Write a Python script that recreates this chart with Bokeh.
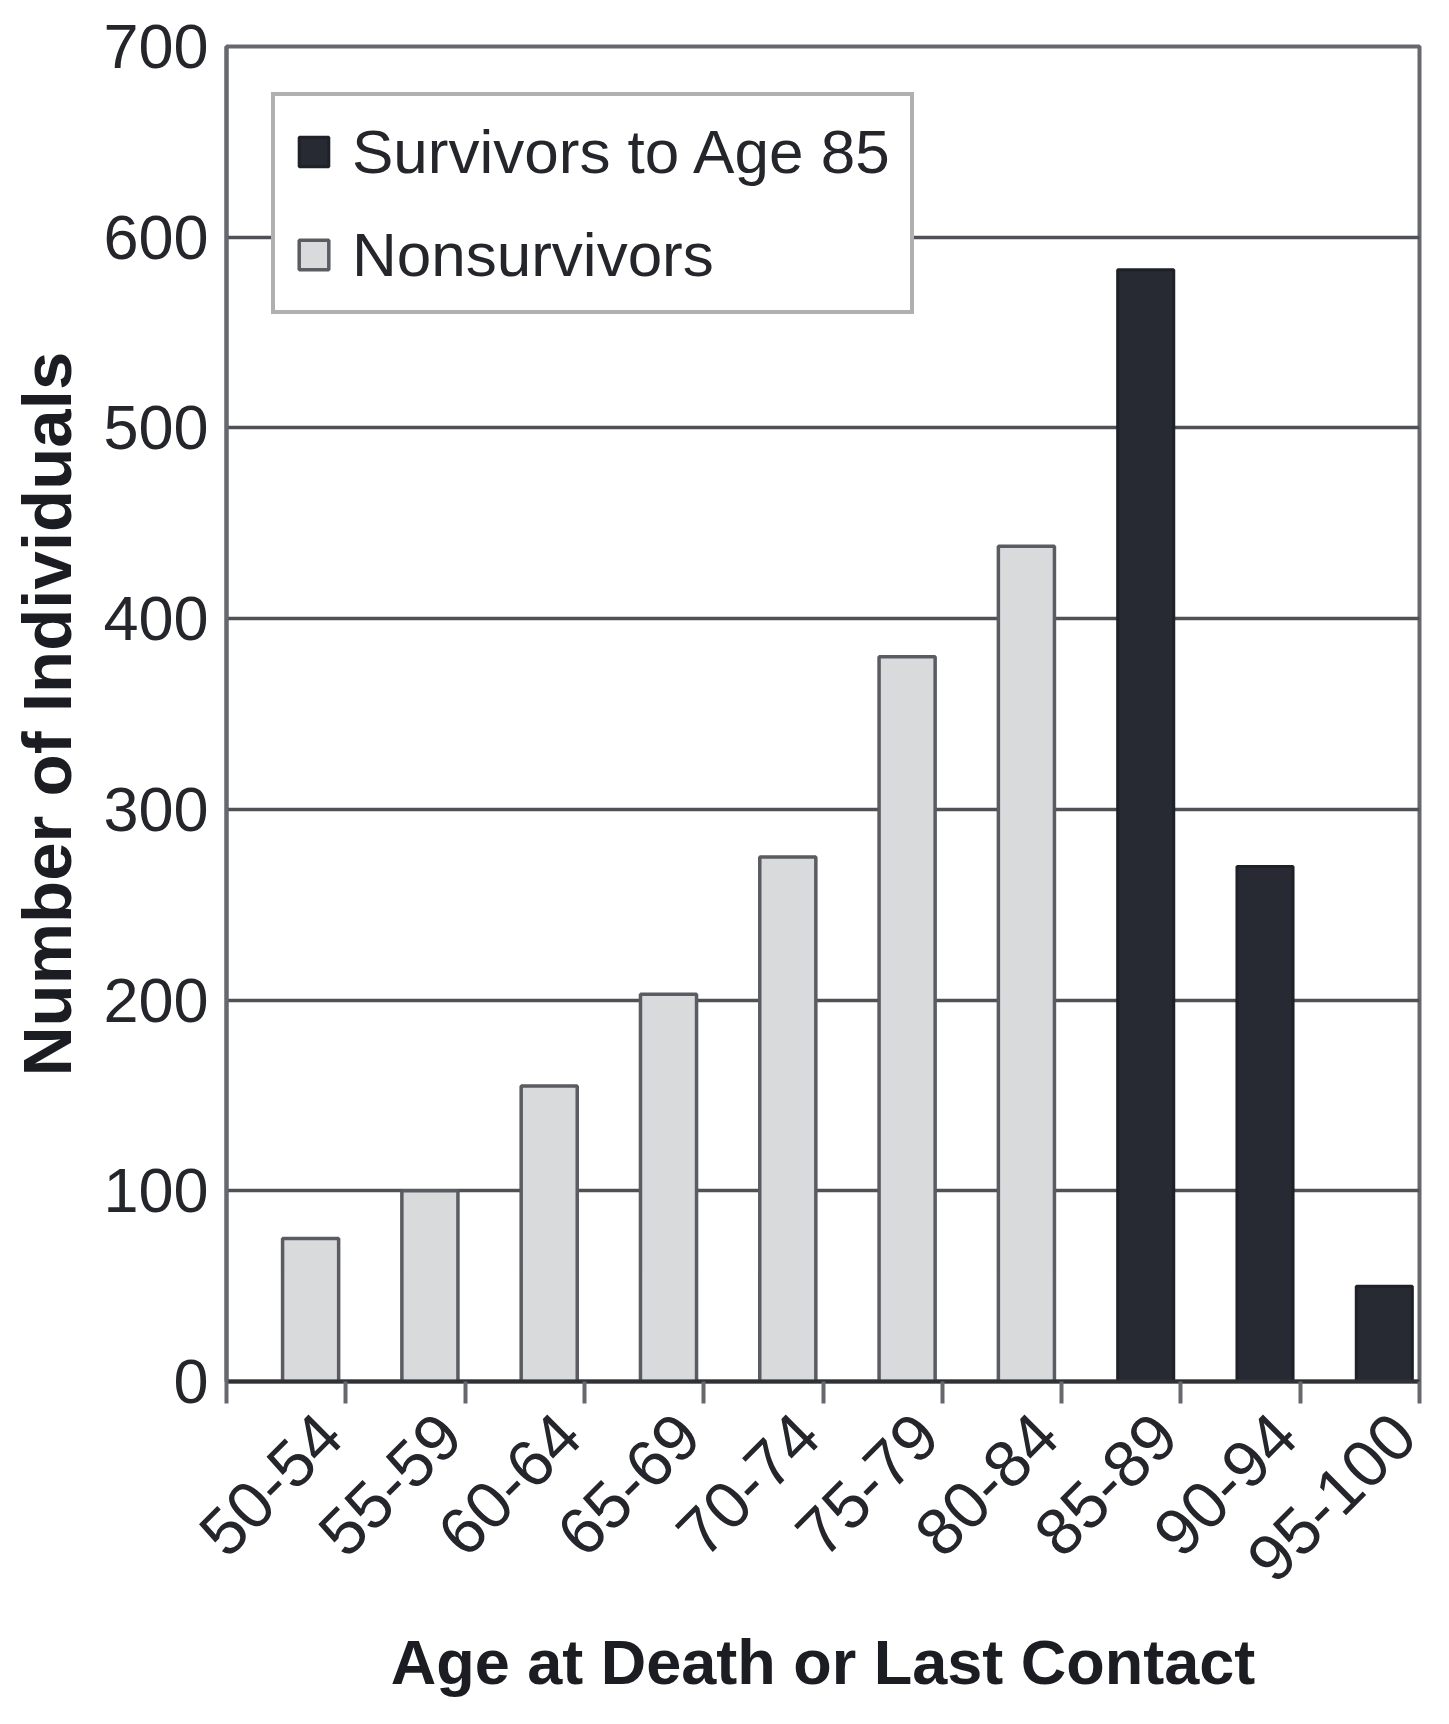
from bokeh.plotting import figure
from bokeh.models import (FactorRange, Range1d, LinearAxis, FixedTicker, Legend,
                          LegendItem, ColumnDataSource)
from bokeh.transform import dodge
from bokeh.embed import file_html
from bokeh.resources import INLINE

# ---- data ----
ages = ["50-54", "55-59", "60-64", "65-69", "70-74", "75-79",
        "80-84", "85-89", "90-94", "95-100"]
nonsurvivors = [75, 100, 155, 203, 275, 380, 438, 0, 0, 0]
survivors = [0, 0, 0, 0, 0, 0, 0, 583, 270, 50]
y_ticks = [0, 100, 200, 300, 400, 500, 600, 700]

FONT = "Liberation Sans"
TEXT = "#24262c"

src = ColumnDataSource(dict(age=ages, non=nonsurvivors, surv=survivors))

p = figure(x_range=FactorRange(*ages, range_padding=0),
           y_range=Range1d(0, 700),
           frame_width=1193, frame_height=1335,
           min_border_left=226, min_border_right=14,
           min_border_top=46, min_border_bottom=320,
           x_axis_type=None,
           output_backend="svg", toolbar_location=None)

p.outline_line_color = "#66686d"
p.outline_line_width = 4
p.background_fill_color = "white"
p.border_fill_color = "white"

# bars (offset to the right of each category, as in the original)
r_non = p.vbar(x=dodge("age", 0.205, range=p.x_range), top="non", width=0.47,
               source=src, fill_color="#d9dadc", line_color="#5a5c62",
               line_width=3.5)
r_surv = p.vbar(x=dodge("age", 0.205, range=p.x_range), top="surv", width=0.47,
                source=src, fill_color="#272a32", line_color="#1f2128",
                line_width=3)

# y axis
yax = p.yaxis[0]
yax.ticker = FixedTicker(ticks=y_ticks)
yax.axis_label = "Number of Individuals"
yax.axis_label_text_font = FONT
yax.axis_label_text_font_style = "bold"
yax.axis_label_text_font_size = "69px"
yax.axis_label_text_color = "#1c1d22"
yax.axis_label_standoff = 14
yax.major_label_text_font = FONT
yax.major_label_text_font_size = "63px"
yax.major_label_text_color = TEXT
yax.major_label_standoff = 18
yax.major_tick_out = 0
yax.major_tick_in = 0
yax.minor_tick_line_color = None
yax.axis_line_color = "#66686d"
yax.axis_line_width = 4

p.ygrid.ticker = FixedTicker(ticks=y_ticks)
p.ygrid.grid_line_color = "#4f5156"
p.ygrid.grid_line_width = 3.5

# x axis: ticks at category boundaries, rotated labels near right of each category
label_pos = [i + 0.87 for i in range(len(ages))]
bounds = list(range(len(ages) + 1))
xax = LinearAxis(ticker=FixedTicker(ticks=label_pos, minor_ticks=bounds),
                 major_label_overrides={pos: a for pos, a in zip(label_pos, ages)})
xax.major_label_orientation = 0.7854
xax.major_label_text_font = FONT
xax.major_label_text_font_size = "66px"
xax.major_label_text_color = TEXT
xax.major_label_standoff = 21
xax.major_tick_line_color = None
xax.major_tick_out = 0
xax.major_tick_in = 0
xax.minor_tick_line_color = "#66686d"
xax.minor_tick_line_width = 4
xax.minor_tick_out = 22
xax.minor_tick_in = 0
xax.axis_line_color = "#2f3137"
xax.axis_line_width = 4
xax.axis_label = "Age at Death or Last Contact"
xax.axis_label_text_font = FONT
xax.axis_label_text_font_style = "bold"
xax.axis_label_text_font_size = "63px"
xax.axis_label_text_color = "#1c1d22"
xax.axis_label_standoff = 22
p.add_layout(xax, "below")

legend = Legend(items=[LegendItem(label="Survivors to Age 85", renderers=[r_surv]),
                       LegendItem(label="Nonsurvivors", renderers=[r_non])],
                location=(45, 1067))
legend.label_text_font = FONT
legend.label_text_font_size = "62px"
legend.label_text_color = TEXT
legend.glyph_width = 37
legend.glyph_height = 37
legend.label_standoff = 20
legend.padding = 20
legend.spacing = 32
legend.margin = 0
legend.border_line_color = "#5f6166"
legend.border_line_width = 4
legend.background_fill_color = "white"
legend.background_fill_alpha = 1.0
p.add_layout(legend, "center")

open("out.html", "w").write(file_html(p, INLINE))
